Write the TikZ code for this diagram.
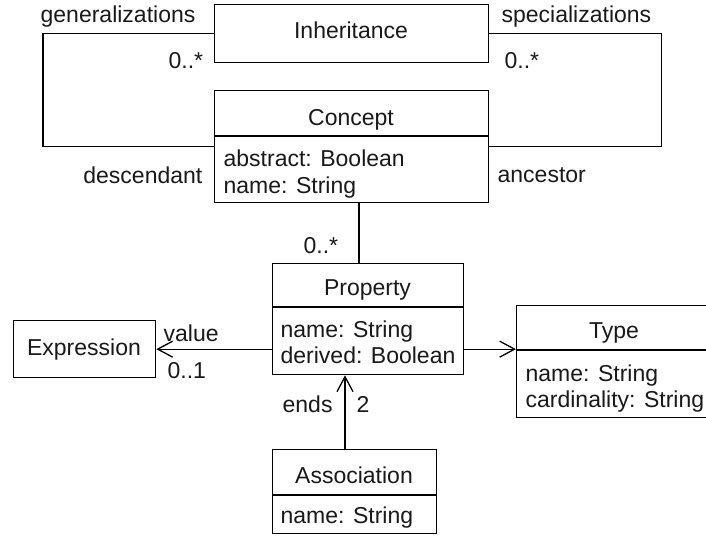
\documentclass[tikz,border=0pt]{standalone}
\usepackage{fontspec}
\setmainfont{Liberation Sans}
\usetikzlibrary{arrows.meta}
\begin{document}
\begin{tikzpicture}[x=1pt,y=-1pt,line width=1.3pt,
  box/.style={draw,line width=1.3pt,inner sep=0pt,anchor=north west},
  lbl/.style={inner sep=0pt,text=black!90,font=\fontsize{23}{27}\selectfont},
  openarrow/.style={-{Straight Barb[length=15pt,width=16pt,line width=1.3pt]}}]
\useasboundingbox (0,0) rectangle (706,535);
\fill[white] (0,0) rectangle (706,535);
\clip (0,0) rectangle (706,535);

% Inheritance
\node[box,minimum width=274pt,minimum height=58pt] (inh) at (214,4) {};
\node[lbl,anchor=base] (inhT) at (351,38) {Inheritance};

% Concept
\node[box,minimum width=274pt,minimum height=112pt] (con) at (214,90) {};
\coordinate (conD) at (0,136);
\draw (con.west |- conD) -- (con.east |- conD);
\node[lbl,anchor=base] (conT) at (351,125) {Concept};
\node[lbl,anchor=base west] (conA1) at (223,166) {abstract: Boolean};
\node[lbl,anchor=base west] (conA2) at (223,193) {name: String};

% loops
\draw (inh.west) -- ++(-171,0) |- (con.west);
\draw (inh.east) -- ++(172,0) |- (con.east);
\node[lbl,anchor=base west] (gen) at (40,23) {generalizations};
\node[lbl,anchor=base west] (genM) at (168,68) {0..*};
\node[lbl,anchor=base west] (spec) at (501,23) {specializations};
\node[lbl,anchor=base west] (specM) at (504,68) {0..*};
\node[lbl,anchor=base east] (desc) at (203,183) {descendant};
\node[lbl,anchor=base west] (anc) at (497,182) {ancestor};

% Property
\node[box,minimum width=191pt,minimum height=111pt] (prop) at (272,263) {};
\coordinate (propD) at (0,307);
\draw (prop.west |- propD) -- (prop.east |- propD);
\node[lbl,anchor=base] (propT) at (367.5,295) {Property};
\node[lbl,anchor=base west] (propA1) at (280,337) {name: String};
\node[lbl,anchor=base west] (propA2) at (280,363) {derived: Boolean};

% Concept - Property
\coordinate (cx) at (359,0);
\draw (con.south -| cx) -- (prop.north -| cx);
\node[lbl,anchor=base west] (propM) at (303,253) {0..*};

% Expression
\node[box,minimum width=142pt,minimum height=57pt] (expr) at (13,320) {};
\node[lbl,anchor=base] (exprT) at (84,355) {Expression};
\draw[openarrow] (prop.west |- expr.east) -- (expr.east);
\node[lbl,anchor=base west] (val) at (163,341) {value};
\node[lbl,anchor=base west] (valM) at (167,378) {0..1};

% Type
\node[box,minimum width=196pt,minimum height=112pt] (type) at (516,305) {};
\coordinate (typeD) at (0,350);
\draw (type.west |- typeD) -- (type.east |- typeD);
\node[lbl,anchor=base] (typeT) at (614,338) {Type};
\node[lbl,anchor=base west] (typeA1) at (525,381) {name: String};
\node[lbl,anchor=base west] (typeA2) at (525,407) {cardinality: String};
\draw[openarrow] (prop.east |- expr.east) -- (type.west |- expr.east);

% Association
\node[box,minimum width=164pt,minimum height=84pt] (assoc) at (272,449) {};
\coordinate (assocD) at (0,495);
\draw (assoc.west |- assocD) -- (assoc.east |- assocD);
\node[lbl,anchor=base] (assocT) at (354,483) {Association};
\node[lbl,anchor=base west] (assocA1) at (280,523) {name: String};
\coordinate (ax) at (345,0);
\draw[openarrow] (assoc.north -| ax) -- (prop.south -| ax);
\node[lbl,anchor=base west] (ends) at (282,412) {ends};
\node[lbl,anchor=base west] (two) at (356,412) {2};
\end{tikzpicture}
\end{document}
